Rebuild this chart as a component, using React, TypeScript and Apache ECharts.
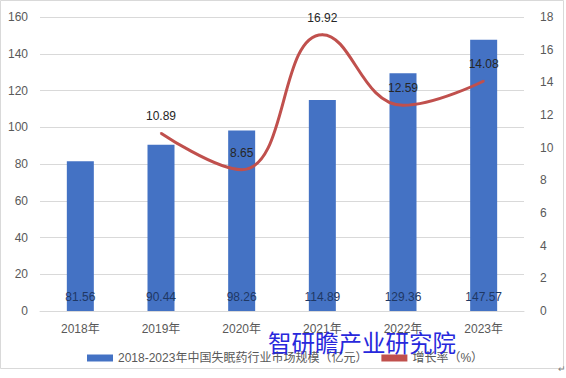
import React, { useEffect, useRef } from "react";
import * as echarts from "echarts";

const categories = ["2018年", "2019年", "2020年", "2021年", "2022年", "2023年"];
const marketSize = [81.56, 90.44, 98.26, 114.89, 129.36, 147.57];
const growthRate: (number | null)[] = [null, 10.89, 8.65, 16.92, 12.59, 14.08];
const barName = "2018-2023年中国失眠药行业市场规模（亿元）";
const lineName = "增长率（%）";
const watermark = "智研瞻产业研究院";

export default function App() {
  const ref = useRef<HTMLDivElement>(null);
  useEffect(() => {
    document.body.style.margin = "0";
    const chart = echarts.init(ref.current!, null, { renderer: "svg" });
    const font = "'Liberation Sans', 'Noto Sans CJK SC', sans-serif";
    chart.setOption({
      animation: false,
      backgroundColor: "#ffffff",
      textStyle: { fontFamily: font },
      grid: { left: 40, right: 42, top: 17, bottom: 67 },
      legend: {
        left: 82,
        top: 347,
        itemWidth: 26,
        itemHeight: 7,
        itemGap: 14,
        textStyle: { color: "#595959", fontSize: 12, fontFamily: font },
        data: [
          { name: barName, icon: "rect", itemStyle: { color: "#4472C4" } },
          { name: lineName, icon: "rect", itemStyle: { color: "#C0504D", opacity: 1 } },
        ],
      },
      xAxis: {
        type: "category",
        data: categories,
        axisLine: { lineStyle: { color: "#d9d9d9" } },
        axisTick: { show: false },
        axisLabel: { color: "#595959", fontSize: 12, margin: 12 },
      },
      yAxis: [
        {
          type: "value",
          min: 0,
          max: 160,
          interval: 20,
          axisLine: { show: false },
          axisTick: { show: false },
          axisLabel: { color: "#595959", fontSize: 12, margin: 12 },
          splitLine: { lineStyle: { color: "#d9d9d9" } },
        },
        {
          type: "value",
          min: 0,
          max: 18,
          interval: 2,
          axisLine: { show: false },
          axisTick: { show: false },
          axisLabel: { color: "#595959", fontSize: 12, margin: 16 },
          splitLine: { show: false },
        },
      ],
      series: [
        {
          name: barName,
          type: "bar",
          data: marketSize,
          barWidth: 27,
          itemStyle: { color: "#4472C4" },
          label: {
            show: true,
            position: "insideBottom",
            distance: 8,
            color: "#1F3864",
            fontSize: 12,
          },
        },
        {
          name: lineName,
          type: "line",
          yAxisIndex: 1,
          data: growthRate,
          smooth: 0.45,
          symbol: "circle",
          symbolSize: 2,
          showSymbol: true,
          lineStyle: { color: "#C0504D", width: 3 },
          itemStyle: { color: "#C0504D" },
          label: {
            show: true,
            position: "top",
            distance: 10,
            color: "#262626",
            fontSize: 12,
          },
        },
      ],
      graphic: [
        {
          type: "rect",
          shape: { x: 0.5, y: 0.5, width: 563, height: 368 },
          style: { fill: "none", stroke: "#d9d9d9", lineWidth: 1 },
          silent: true,
        },
        {
          type: "text",
          left: 268,
          top: 330,
          z: 100,
          style: {
            text: watermark,
            fill: "#2828dc",
            fontSize: 23.5,
            fontFamily: "'Noto Sans CJK SC', sans-serif",
          },
        },
        {
          type: "text",
          left: 558,
          top: 364,
          style: { text: "↵", fill: "#808080", fontSize: 9 },
        },
      ],
    });
    return () => chart.dispose();
  }, []);
  return <div ref={ref} style={{ width: 566, height: 378 }} />;
}
